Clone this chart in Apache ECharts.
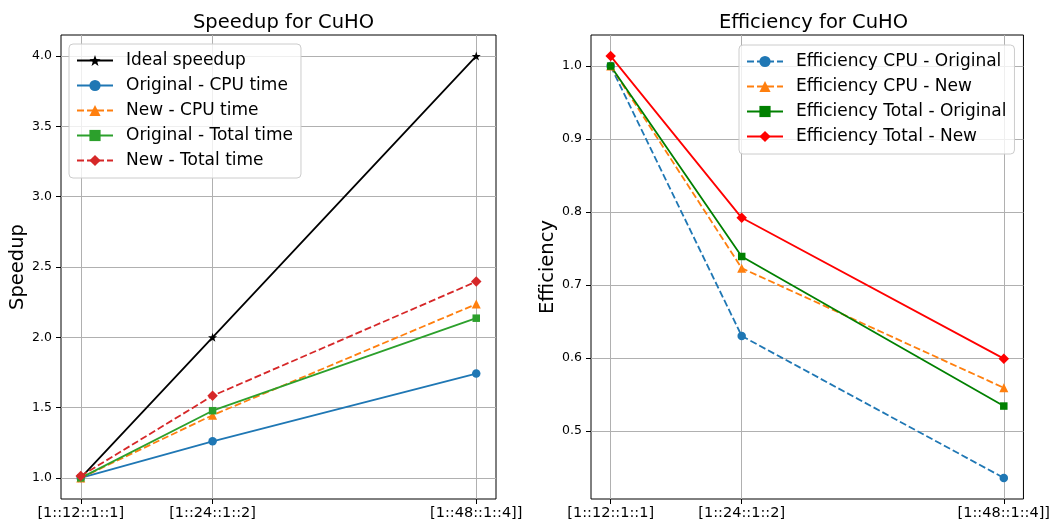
<!DOCTYPE html>
<html>
<head>
<meta charset="utf-8">
<script src="https://cdn.jsdelivr.net/npm/echarts@6/dist/echarts.min.js"></script>
<style>
  html, body { margin: 0; padding: 0; background: #fff; }
  #chart { width: 1053px; height: 523px; }
</style>
</head>
<body>
<div id="chart"></div>
<script>
// Core counts and the run configurations they correspond to
const coreCounts = [12, 24, 48];
const configLabels = ['[1::12::1::1]', '[1::24::1::2]', '[1::48::1::4]]'];

// Speedup relative to the 12-core run
const idealSpeedup = [1.0, 2.0, 4.0];
const speedupCpuOriginal = [1.0, 1.26, 1.742];
const speedupCpuNew = [1.0, 1.446, 2.236];
const speedupTotalOriginal = [1.0, 1.478, 2.136];
const speedupTotalNew = [1.0137, 1.584, 2.396];

// Parallel efficiency
const effCpuOriginal = [1.0, 0.63, 0.4355];
const effCpuNew = [1.0, 0.723, 0.559];
const effTotalOriginal = [1.0, 0.739, 0.534];
const effTotalNew = [1.0137, 0.792, 0.599];

// Tick labels
const speedupTicks = [1.0, 1.5, 2.0, 2.5, 3.0, 3.5, 4.0];
const efficiencyTicks = [0.5, 0.6, 0.7, 0.8, 0.9, 1.0];

const FONT = 'DejaVu Sans';
const STAR = 'path://M0,-10L2.35,-3.24L9.51,-3.09L3.8,1.24L5.88,8.09L0,4L-5.88,8.09L-3.8,1.24L-9.51,-3.09L-2.35,-3.24Z';

// Axis extent with a 5% margin on each side
function padded(arrays) {
  const all = [].concat(...arrays);
  const lo = Math.min(...all), hi = Math.max(...all);
  const m = (hi - lo) * 0.05;
  return [lo - m, hi + m];
}
const xExt = padded([coreCounts]);
const ySpeedExt = padded([idealSpeedup, speedupCpuOriginal, speedupCpuNew, speedupTotalOriginal, speedupTotalNew]);
const yEffExt = padded([effCpuOriginal, effCpuNew, effTotalOriginal, effTotalNew]);

const pairs = (ys) => coreCounts.map((x, i) => [x, ys[i]]);

function xAxis(gridIndex) {
  return {
    type: 'value', gridIndex, min: xExt[0], max: xExt[1],
    axisLine: { show: false },
    axisTick: { show: true, inside: false, length: 5, customValues: coreCounts,
      lineStyle: { color: '#000', width: 1 } },
    axisLabel: { customValues: coreCounts, margin: 7, color: '#000',
      fontFamily: FONT, fontSize: 14.5,
      formatter: (v) => configLabels[coreCounts.indexOf(v)] },
    splitLine: { show: false }
  };
}
function yAxis(gridIndex, ext, ticks, name) {
  return {
    type: 'value', gridIndex, min: ext[0], max: ext[1],
    name, nameLocation: 'middle', nameGap: 33,
    nameTextStyle: { fontFamily: FONT, fontSize: 19.5, color: '#000' },
    axisLine: { show: false },
    axisTick: { show: true, inside: false, length: 5, customValues: ticks,
      lineStyle: { color: '#000', width: 1 } },
    axisLabel: { customValues: ticks, margin: 9, color: '#000',
      fontFamily: FONT, fontSize: 12.5, formatter: (v) => v.toFixed(1) },
    splitLine: { show: false }
  };
}

// Light gray grid lines at every tick, drawn via markLine
function gridLines(xs, ys) {
  return {
    silent: true, symbol: 'none', label: { show: false },
    lineStyle: { color: '#b0b0b0', width: 1, type: 'solid' },
    emphasis: { disabled: true },
    data: xs.map(v => ({ xAxis: v })).concat(ys.map(v => ({ yAxis: v })))
  };
}

function line(name, idx, ys, color, dashed, symbol, size) {
  return {
    name, type: 'line', xAxisIndex: idx, yAxisIndex: idx,
    data: pairs(ys), color,
    lineStyle: { color, width: 1.8, type: dashed ? [7, 3] : 'solid' },
    itemStyle: { color, borderWidth: 0 },
    symbol, symbolSize: size, showSymbol: true, z: 3
  };
}

const series = [
  line('Ideal speedup', 0, idealSpeedup, '#000000', false, STAR, 9),
  line('Original - CPU time', 0, speedupCpuOriginal, '#1f77b4', false, 'circle', 8.5),
  line('New - CPU time', 0, speedupCpuNew, '#ff7f0e', true, 'triangle', 9),
  line('Original - Total time', 0, speedupTotalOriginal, '#2ca02c', false, 'rect', 7.5),
  line('New - Total time', 0, speedupTotalNew, '#d62728', true, 'diamond', 10.5),
  line('Efficiency CPU - Original', 1, effCpuOriginal, '#1f77b4', true, 'circle', 8.5),
  line('Efficiency CPU - New', 1, effCpuNew, '#ff7f0e', true, 'triangle', 9),
  line('Efficiency Total - Original', 1, effTotalOriginal, '#008000', false, 'rect', 7.5),
  line('Efficiency Total - New', 1, effTotalNew, '#ff0000', false, 'diamond', 10.5)
];
// grid lines live on the first series of each panel, beneath the data
series[0].markLine = gridLines(coreCounts, speedupTicks);
series[5].markLine = gridLines(coreCounts, efficiencyTicks);
series[0].markLine.z = 1;
series[5].markLine.z = 1;

function legend(left, top, names) {
  return {
    data: names, orient: 'vertical', left, top,
    itemWidth: 36, itemHeight: 14, itemGap: 8,
    padding: [8, 8, 9, 7],
    backgroundColor: 'rgba(255,255,255,0.8)',
    borderColor: '#cccccc', borderWidth: 1, borderRadius: 4,
    textStyle: { fontFamily: FONT, fontSize: 17, color: '#000', lineHeight: 17,
      padding: [0, 0, 0, 8] },
    selectedMode: false
  };
}

const option = {
  backgroundColor: '#ffffff',
  animation: false,
  title: [
    { text: 'Speedup for CuHO', left: 278.5, top: 8, textAlign: 'center',
      textStyle: { fontFamily: FONT, fontSize: 19.5, fontWeight: 'normal', color: '#000' } },
    { text: 'Efficiency for CuHO', left: 808.5, top: 8, textAlign: 'center',
      textStyle: { fontFamily: FONT, fontSize: 19.5, fontWeight: 'normal', color: '#000' } }
  ],
  grid: [
    { left: 61, top: 35, width: 435, height: 464, show: true,
      borderColor: '#000', borderWidth: 1, backgroundColor: 'transparent' },
    { left: 591, top: 35, width: 435, height: 464, show: true,
      borderColor: '#000', borderWidth: 1, backgroundColor: 'transparent' }
  ],
  xAxis: [xAxis(0), xAxis(1)],
  yAxis: [yAxis(0, ySpeedExt, speedupTicks, 'Speedup'), yAxis(1, yEffExt, efficiencyTicks, 'Efficiency')],
  legend: [
    legend(69, 44, series.slice(0, 5).map(s => s.name)),
    legend(739, 45, series.slice(5).map(s => s.name))
  ],
  series
};

const chart = echarts.init(document.getElementById('chart'), null, { renderer: 'canvas' });
chart.setOption(option);
</script>
</body>
</html>
